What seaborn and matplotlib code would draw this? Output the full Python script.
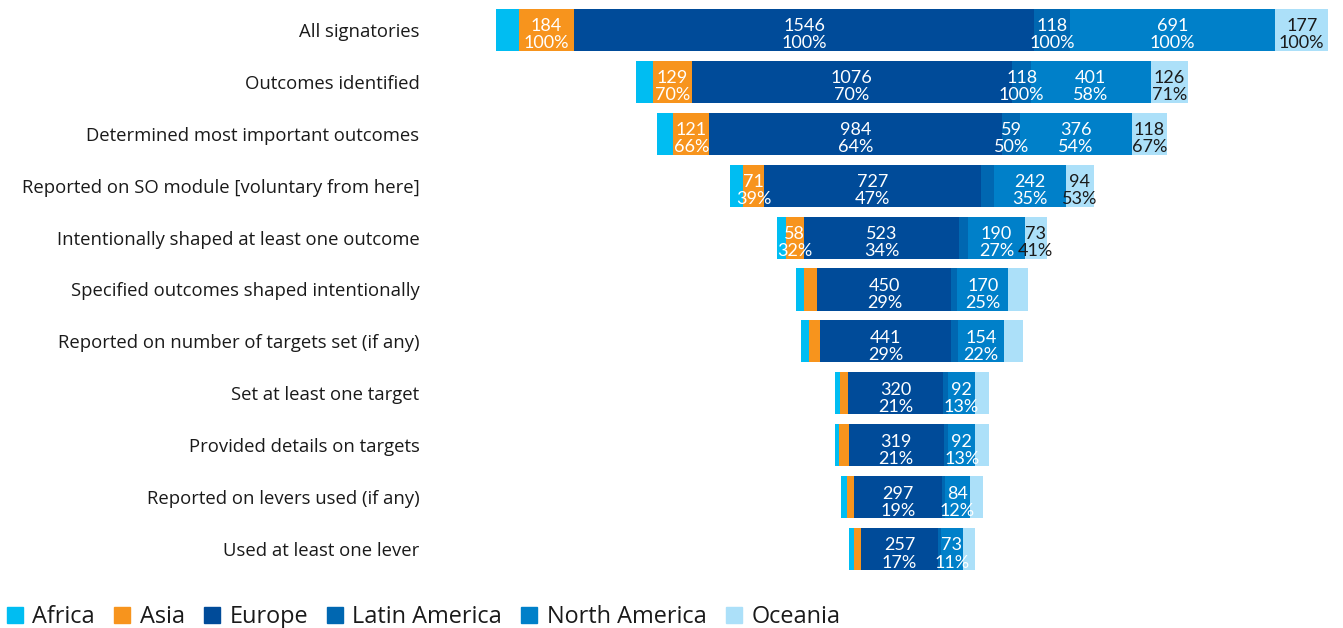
import numpy as np
import pandas as pd
import matplotlib.pyplot as plt
import seaborn as sns
from matplotlib.lines import Line2D

# === Data ===
stages = [
    "All signatories",
    "Outcomes identified",
    "Determined most important outcomes",
    "Reported on SO module [voluntary from here]",
    "Intentionally shaped at least one outcome",
    "Specified outcomes shaped intentionally",
    "Reported on number of targets set (if any)",
    "Set at least one target",
    "Provided details on targets",
    "Reported on levers used (if any)",
    "Used at least one lever",
]
regions = ["Africa", "Asia", "Europe", "Latin America", "North America", "Oceania"]

africa = [78, 58, 55, 44, 30, 26, 27, 16, 16, 20, 17]
asia = [184, 129, 121, 71, 58, 45, 37, 28, 31, 23, 23]
europe = [1546, 1076, 984, 727, 523, 450, 441, 320, 319, 297, 257]
latin_america = [118, 64, 59, 44, 30, 20, 24, 15, 15, 10, 10]
north_america = [691, 401, 376, 242, 190, 170, 154, 92, 92, 84, 73]
oceania = [177, 126, 118, 94, 73, 66, 64, 47, 47, 44, 40]

# numbers printed on the segments (None = no label)
asia_labels = [184, 129, 121, 71, 58, None, None, None, None, None, None]
europe_labels = europe
latin_america_labels = [118, 118, 59, None, None, None, None, None, None, None, None]
north_america_labels = north_america
oceania_labels = [177, 126, 118, 94, 73, None, None, None, None, None, None]

colors = ["#00bdf2", "#f7941d", "#004b99", "#0067b1", "#0080c9", "#ace0f9"]

values = [africa, asia, europe, latin_america, north_america, oceania]
labels = [None, asia_labels, europe_labels, latin_america_labels,
          north_america_labels, oceania_labels]
text_colors = ["white", "white", "white", "white", "white", "#1a1a1a"]

# === Centered (funnel) stacking ===
vals = np.array(values, dtype=float)
totals = vals.sum(axis=0)
lefts = -totals / 2 + np.vstack([np.zeros(len(stages)), np.cumsum(vals, axis=0)[:-1]])

sns.set_theme(style="white")
plt.rcParams["font.family"] = ["Open Sans", "DejaVu Sans"]

fig = plt.figure(figsize=(13.43, 6.28), dpi=100)
ax = fig.add_axes([430 / 1343, 1 - 575 / 628, 913 / 1343, (575 - 4) / 628])

for i, region in enumerate(regions):
    df = pd.DataFrame({"stage": stages, "value": vals[i]})
    sns.barplot(data=df, x="value", y="stage", order=stages, left=lefts[i],
                color=colors[i], saturation=1, width=0.81, orient="h",
                linewidth=0, ax=ax)

# === Segment labels (count + share of "All signatories") ===
for i, lab in enumerate(labels):
    if lab is None:
        continue
    base = lab[0]
    for r, n in enumerate(lab):
        if n is None:
            continue
        xc = lefts[i][r] + vals[i][r] / 2
        ax.text(xc, r - 0.07, f"{n}", ha="center", va="center", fontsize=13,
                color=text_colors[i], family="Lato")
        ax.text(xc, r + 0.26, f"{round(100 * n / base)}%", ha="center", va="center",
                fontsize=13, color=text_colors[i], family="Lato")

ax.set_xlim(-1618, 1447)
ax.set_ylim(10.5, -0.5)
ax.set_xlabel("")
ax.set_ylabel("")
ax.set_xticks([])
ax.tick_params(axis="y", length=0, pad=7.6, labelsize=13.3, labelcolor="#1a1a1a")
sns.despine(ax=ax, left=True, bottom=True)

# === Legend ===
handles = [Line2D([], [], marker="s", linestyle="", color=c, markersize=12)
           for c in colors]
fig.legend(handles, regions, loc="center left", bbox_to_anchor=(5.7 / 1343, 1 - 617 / 628),
           ncol=6, frameon=False, fontsize=16.9, handlelength=0.8, handletextpad=0.34,
           columnspacing=0.76, borderpad=0, borderaxespad=0, labelcolor="#1a1a1a")

fig.savefig("out.png", dpi=100)
